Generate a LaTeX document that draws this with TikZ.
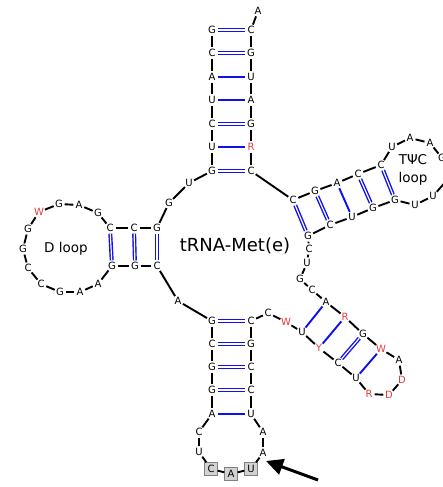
\documentclass[tikz,border=0pt]{standalone}
\usepackage{fontspec}
\setmainfont{DejaVu Sans}
\usetikzlibrary{arrows.meta}
\definecolor{pairblue}{RGB}{15,15,240}
\definecolor{iupacred}{RGB}{230,60,60}
\tikzset{
 nt/.style={circle,inner sep=0pt,minimum size=11pt,font=\fontsize{10}{10}\selectfont},
 amb/.style={nt,text=iupacred},
 acodon/.style={rectangle,draw=gray,fill=gray!35,inner sep=0pt,minimum size=13pt,font=\fontsize{10}{10}\selectfont},
 bb/.style={draw=black,line width=1.9pt},
 wc/.style={draw=pairblue,line width=1.4pt,double=white,double distance=1.2pt},
 ws/.style={draw=pairblue,line width=1.9pt},
 ptr/.style={draw=black,line width=3pt,-{Triangle[length=17pt,width=16pt]}}
}
\begin{document}
\begin{tikzpicture}[x=1pt,y=-1pt]
 \clip (0,0) rectangle (443,487);
 \foreach \n/\x/\y/\b in {1/212/30/G,2/212/53/C,3/212/77/A,4/212/100/U,5/212/124/C,
  6/212/147/U,7/212/171/G,8/189/183/U,9/169/203/G,10/157/228/G,11/134/228/C,12/110/228/C,
  13/98/213/G,14/79/205/A,15/59/204/G,17/28/229/G,18/23/249/G,19/28/268/C,20/41/284/C,
  21/60/292/G,22/80/292/A,23/98/284/A,24/112/266/G,25/135/266/G,26/157/266/C,27/178/301/A,
  28/212/321/G,29/212/344/C,30/212/367/G,31/212/390/G,32/212/414/A,33/199/432/C,34/199/452/U,
  38/263/453/A,39/263/432/A,40/251/414/U,41/251/390/C,42/251/367/C,43/251/344/G,44/251/321/C,
  45/268/313/C,47/302/332/U,49/338/363/C,50/356/378/U,54/399/360/A,56/363/334/G,58/326/302/A,
  59/312/290/C,60/300/279/G,61/307/263/U,62/309/249/C,63/308/236/G,64/330/225/C,65/352/217/U,
  66/373/208/G,67/395/200/G,68/415/205/U,69/433/196/U,70/449/178/C,71/442/158/G,72/430/143/A,
  73/410/138/A,74/392/147/U,75/381/165/C,76/358/174/C,77/337/183/A,78/315/191/G,79/293/200/C,
  80/251/171/C,82/251/124/G,83/251/100/A,84/251/77/U,85/251/53/G,86/251/30/C,87/258/11/A}
  \node[nt] (n\n) at (\x,\y) {\b};
 \foreach \n/\x/\y/\b in {16/39/212/W,46/286/322/W,48/319/348/Y,51/369/394/R,52/389/395/D,
  53/402/380/D,55/381/349/W,57/345/317/R,81/251/147/R}
  \node[amb] (n\n) at (\x,\y) {\b};
 \foreach \n/\x/\y/\b in {35/211/469/C,36/231/474/A,37/251/469/U}
  \node[acodon] (n\n) at (\x,\y) {\b};
 \foreach \i [count=\j from 2] in {1,...,86}
  \draw[bb] (n\i) -- (n\j);
 \foreach \a/\b in {1/86,2/85,5/82,7/80,10/26,11/25,12/24,28/44,29/43,30/42,31/41,
  49/56,63/79,64/78,66/76,67/75}
  \draw[wc] (n\a) -- (n\b);
 \foreach \a/\b in {3/84,4/83,6/81,32/40,47/58,48/57,50/55,65/77}
  \draw[ws] (n\a) -- (n\b);
 \node[font=\fontsize{18}{18}\selectfont] (title) at (235,246) {tRNA-Met(e)};
 \node[font=\fontsize{13.5}{14}\selectfont] (dloop) at (66,249) {D loop};
 \node[font=\fontsize{13.5}{17.5}\selectfont,align=center] (tloop) at (413,170) {TΨC\\loop};
 \coordinate (tail) at (318,480);
 \coordinate (tip) at (266,461);
 \draw[ptr] (tail) -- (tip);
\end{tikzpicture}
\end{document}
